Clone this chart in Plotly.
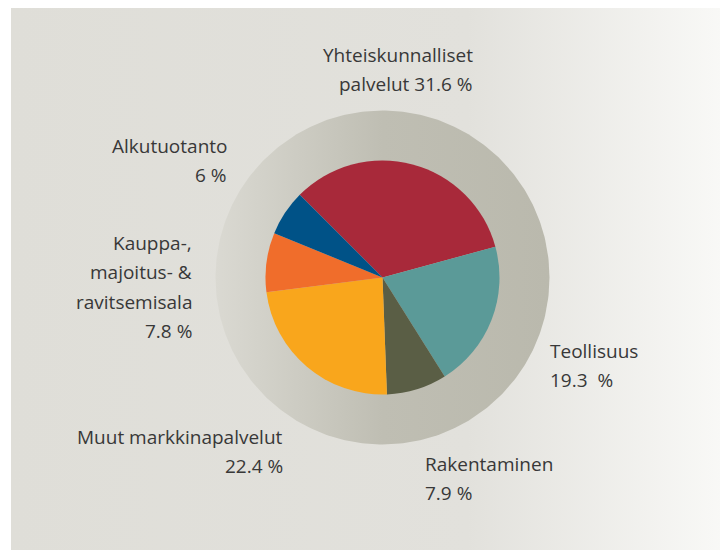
import numpy as np
import plotly.graph_objects as go

# ---- data ----
categories = ["Yhteiskunnalliset palvelut", "Teollisuus", "Rakentaminen",
              "Muut markkinapalvelut", "Kauppa-, majoitus- & ravitsemisala", "Alkutuotanto"]
values = [31.6, 19.3, 7.9, 22.4, 7.8, 6.0]
colors = ["#a8293a", "#5b9a98", "#5a5e45", "#f9a61c", "#f06d2b", "#005287"]
label_lines = [
    ["Yhteiskunnalliset", "palvelut 31.6 %"],
    ["Teollisuus", "19.3  %"],
    ["Rakentaminen", "7.9 %"],
    ["Muut markkinapalvelut", "22.4 %"],
    ["Kauppa-,", "majoitus- &", "ravitsemisala", "7.8 %"],
    ["Alkutuotanto", "6 %"],
]

W, H = 728, 550
OFF = 8  # page body margin offset
cx, cy, r_pie, r_ring = 382.5, 277.5, 117, 167

fig = go.Figure()

# background panel with horizontal gradient
fig.add_trace(go.Scatter(
    x=[11, W + 20, W + 20, 11, 11], y=[2, 2, H + 20, H + 20, 2], mode="lines", line=dict(width=0),
    fill="toself", hoverinfo="skip", showlegend=False,
    fillgradient=dict(type="horizontal",
                      colorscale=[[0, "#dfded8"], [0.62, "#e2e1dc"], [0.97, "#f9f9f7"], [1, "#fafaf8"]]),
))

# ring behind the pie
t = np.linspace(0, 2 * np.pi, 361)
fig.add_trace(go.Scatter(
    x=cx + r_ring * np.cos(t), y=cy + r_ring * np.sin(t), mode="lines", line=dict(width=0),
    fill="toself", hoverinfo="skip", showlegend=False,
    fillgradient=dict(type="horizontal",
                      colorscale=[[0, "#dad9d2"], [0.5, "#bfbeb3"], [1, "#bab9ad"]]),
))

fig.add_trace(go.Pie(
    labels=categories, values=values, sort=False, direction="clockwise", rotation=-45,
    marker=dict(colors=colors, line=dict(width=0)), textinfo="none", hoverinfo="label+value",
    showlegend=False,
    domain=dict(x=[(cx - OFF - r_pie) / W, (cx - OFF + r_pie) / W],
                y=[(H - (cy - OFF) - r_pie) / H, (H - (cy - OFF) + r_pie) / H]),
))

# label placement (anchor x, first line y, side)
placements = [
    (475, 55, "right"),
    (548, 351, "left"),
    (423, 464, "left"),
    (285, 437, "right"),
    (194, 243, "right"),
    (229, 146, "right"),
]
line_gap = 29.3
for lines, (ax, ay, side) in zip(label_lines, placements):
    for i, ln in enumerate(lines):
        fig.add_annotation(
            x=ax, y=ay + i * line_gap, xref="x", yref="y", text=ln, showarrow=False,
            xanchor=side, yanchor="middle", align=side,
            font=dict(family="Open Sans", size=19, color="#383838"),
        )

fig.update_xaxes(range=[OFF, W + OFF], visible=False, fixedrange=True)
fig.update_yaxes(range=[H + OFF, OFF], visible=False, fixedrange=True)
fig.update_layout(
    width=W, height=H, margin=dict(l=0, r=0, t=0, b=0),
    paper_bgcolor="white", plot_bgcolor="white",
)
fig.write_html("out.html")
